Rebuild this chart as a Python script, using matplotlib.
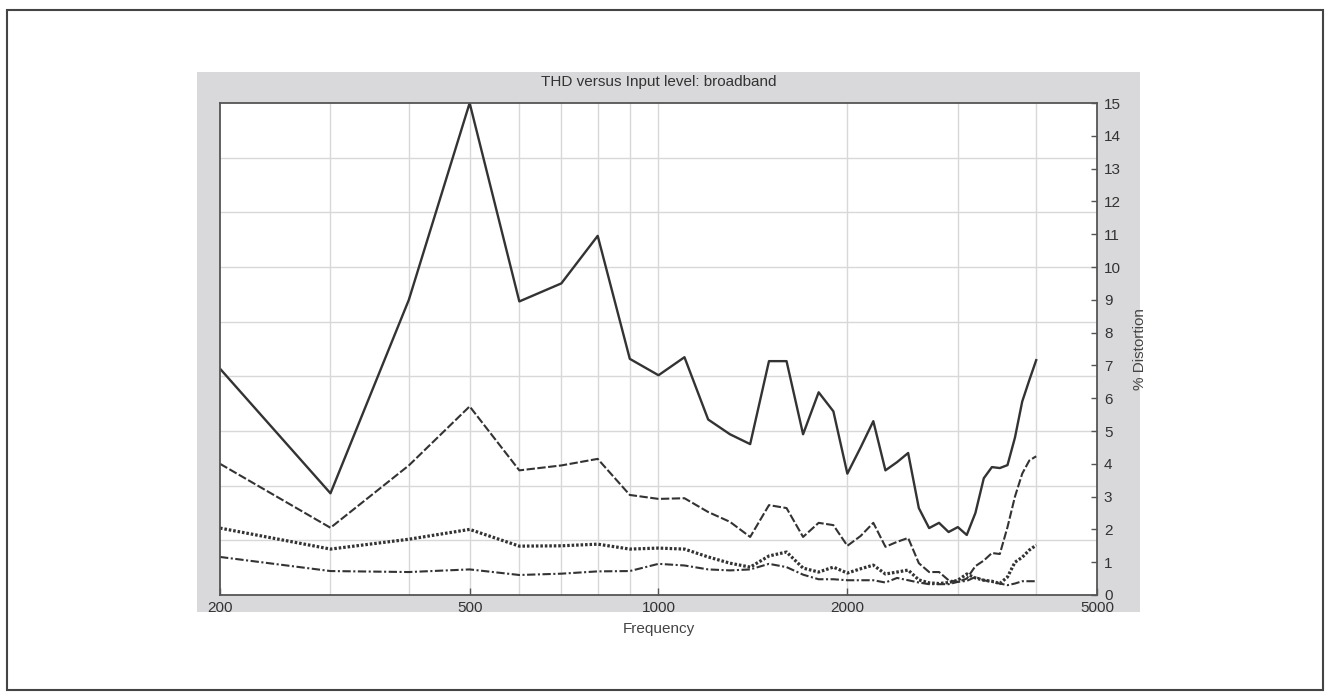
import numpy as np
import matplotlib.pyplot as plt
from matplotlib.patches import Rectangle
from matplotlib.ticker import NullLocator, FixedLocator, FixedFormatter

plt.rcParams['font.family'] = ['Liberation Sans', 'DejaVu Sans']

# measurement frequencies (Hz), 100 Hz steps
freq = np.arange(200, 4001, 100)

# THD (%) for four input levels, highest level first
thd_1 = [6.9, 3.1, 9.0, 15.0, 8.95, 9.5, 10.95, 7.2, 6.7, 7.25,
         5.35, 4.9, 4.6, 7.13, 7.13, 4.9, 6.18, 5.6, 3.7, 4.5,
         5.3, 3.8, 4.05, 4.33, 2.65, 2.04, 2.2, 1.92, 2.07, 1.83,
         2.5, 3.56, 3.9, 3.87, 3.96, 4.8, 5.9, 6.55, 7.16]
thd_2 = [4.0, 2.05, 3.95, 5.75, 3.8, 3.95, 4.15, 3.05, 2.93, 2.95,
         2.53, 2.23, 1.77, 2.74, 2.65, 1.77, 2.2, 2.13, 1.5, 1.8,
         2.2, 1.47, 1.62, 1.74, 0.97, 0.7, 0.7, 0.45, 0.4, 0.5,
         0.88, 1.05, 1.28, 1.25, 2.07, 3.0, 3.7, 4.1, 4.23]
thd_3 = [2.04, 1.4, 1.7, 2.0, 1.49, 1.5, 1.55, 1.4, 1.43, 1.4,
         1.16, 0.97, 0.85, 1.19, 1.31, 0.82, 0.7, 0.85, 0.67, 0.8,
         0.91, 0.64, 0.7, 0.76, 0.46, 0.37, 0.35, 0.38, 0.45, 0.64,
         0.52, 0.45, 0.42, 0.35, 0.55, 1.0, 1.15, 1.37, 1.52]
thd_4 = [1.16, 0.73, 0.7, 0.78, 0.61, 0.65, 0.72, 0.73, 0.95, 0.9,
         0.78, 0.75, 0.78, 0.95, 0.85, 0.62, 0.48, 0.48, 0.45, 0.45,
         0.45, 0.38, 0.52, 0.45, 0.38, 0.33, 0.33, 0.33, 0.4, 0.43,
         0.55, 0.45, 0.4, 0.35, 0.3, 0.35, 0.42, 0.42, 0.42]

x_ticks = [200, 500, 1000, 2000, 5000]
x_grid = [300, 400, 500, 600, 700, 800, 900, 1000, 2000, 3000, 4000]
y_ticks = list(range(16))
y_grid = np.arange(1, 9) * 15 / 9

W, H = 1330, 696
fig = plt.figure(figsize=(W / 100, H / 100), dpi=100)
fig.patch.set_facecolor('white')

# outer frame and grey panel behind the plot
fig.patches.append(Rectangle((7 / W, 1 - 690 / H), 1316 / W, 680 / H,
                             transform=fig.transFigure, fill=False,
                             edgecolor='#444444', lw=1.5, zorder=-2))
fig.patches.append(Rectangle((197 / W, 1 - 612 / H), 943 / W, 540 / H,
                             transform=fig.transFigure, facecolor='#d9d9db',
                             edgecolor='none', zorder=-1))

ax = fig.add_axes([220 / W, 1 - 595 / H, 877 / W, 492 / H])
ax.set_zorder(1)
ax.set_facecolor('white')
ax.set_xscale('log')
ax.set_xlim(200, 5000)
ax.set_ylim(0, 15)

for f in x_grid:
    ax.axvline(f, color='#d8d8d8', lw=1, zorder=0)
for v in y_grid:
    ax.axhline(v, color='#d8d8d8', lw=1, zorder=0)

line_col = '#333333'
ax.plot(freq, thd_1, color=line_col, lw=1.7)
ax.plot(freq, thd_2, color=line_col, lw=1.5, dashes=(4, 1.2))
ax.plot(freq, thd_3, color=line_col, lw=2.3, dashes=(0.8, 0.6))
ax.plot(freq, thd_4, color=line_col, lw=1.5, dashes=(4, 1.2, 1, 1.2))

ax.xaxis.set_major_locator(FixedLocator(x_ticks))
ax.xaxis.set_major_formatter(FixedFormatter([str(t) for t in x_ticks]))
ax.xaxis.set_minor_locator(NullLocator())
ax.yaxis.tick_right()
ax.yaxis.set_label_position('right')
ax.set_yticks(y_ticks)
ax.yaxis.set_minor_locator(NullLocator())
ax.tick_params(axis='x', direction='in', length=5, width=1, color='#555555',
               labelsize=11, labelcolor='#333333', pad=4)
ax.tick_params(axis='y', direction='in', length=4, width=1, color='#555555',
               labelsize=11, labelcolor='#333333', pad=5)

for s in ax.spines.values():
    s.set_color('#555555')
    s.set_linewidth(1.3)

ax.set_title('THD versus Input level: broadband', fontsize=11,
             color='#333333', pad=12)
ax.set_xlabel('Frequency', fontsize=11, color='#444444', labelpad=5)
ax.set_ylabel('% Distortion', fontsize=11, color='#444444', labelpad=9)

fig.savefig('out.png', dpi=100)
